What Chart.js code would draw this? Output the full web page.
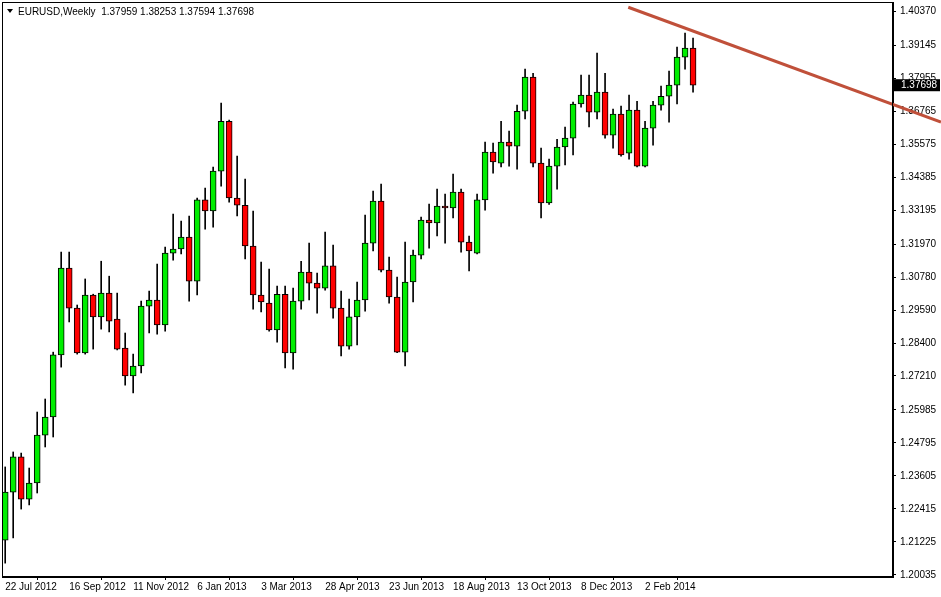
<!DOCTYPE html>
<html><head><meta charset="utf-8">
<script src="https://cdn.jsdelivr.net/npm/chart.js@4/dist/chart.umd.min.js"></script>
<style>html,body{margin:0;padding:0;background:#fff}#w{width:941px;height:597px;position:relative}</style>
</head><body><div id="w"><canvas id="c"></canvas></div>
<script>
const dateLabels=["22 Jul 2012","16 Sep 2012","11 Nov 2012","6 Jan 2013","3 Mar 2013","28 Apr 2013","23 Jun 2013","18 Aug 2013","13 Oct 2013","8 Dec 2013","2 Feb 2014"];
const priceTicks=[1.40370,1.39145,1.37955,1.36765,1.35575,1.34385,1.33195,1.31970,1.30780,1.29590,1.28400,1.27210,1.25985,1.24795,1.23605,1.22415,1.21225,1.20035];
const opens=[1.2129,1.2302,1.2429,1.2277,1.2335,1.2508,1.2573,1.2797,1.3110,1.2966,1.2804,1.3013,1.2934,1.3020,1.2926,1.2822,1.2721,1.2757,1.2973,1.2995,1.2905,1.3164,1.3179,1.3222,1.3063,1.3356,1.3316,1.3460,1.3640,1.3363,1.3337,1.3190,1.3013,1.2984,1.2887,1.3016,1.2804,1.2991,1.3096,1.3056,1.3038,1.3118,1.2966,1.2829,1.2934,1.2995,1.3200,1.3352,1.3103,1.3006,1.2807,1.3060,1.3157,1.3283,1.3273,1.3334,1.3327,1.3384,1.3204,1.3164,1.3356,1.3529,1.3489,1.3565,1.3550,1.3676,1.3799,1.3489,1.3345,1.3478,1.3547,1.3579,1.3702,1.3734,1.3673,1.3745,1.3590,1.3666,1.3525,1.3680,1.3478,1.3615,1.3698,1.3730,1.3770,1.3871,1.3904];
const closes=[1.2302,1.2429,1.2277,1.2335,1.2508,1.2573,1.2797,1.3110,1.2966,1.2804,1.3013,1.2934,1.3020,1.2919,1.2818,1.2721,1.2757,1.2973,1.2995,1.2905,1.3164,1.3179,1.3222,1.3063,1.3356,1.3316,1.3460,1.3640,1.3363,1.3337,1.3190,1.3013,1.2988,1.2887,1.3016,1.2804,1.2991,1.3096,1.3056,1.3038,1.3118,1.2966,1.2829,1.2934,1.2995,1.3200,1.3352,1.3103,1.3006,1.2807,1.3060,1.3157,1.3283,1.3273,1.3334,1.3327,1.3384,1.3204,1.3172,1.3356,1.3529,1.3493,1.3565,1.3550,1.3676,1.3799,1.3489,1.3345,1.3478,1.3547,1.3579,1.3702,1.3734,1.3673,1.3745,1.3590,1.3666,1.3518,1.3680,1.3478,1.3615,1.3698,1.3730,1.3770,1.3871,1.3904,1.37698];
const highs=[1.2393,1.2447,1.2443,1.2389,1.2591,1.2638,1.2807,1.3168,1.3168,1.2977,1.3071,1.3016,1.3135,1.3081,1.3020,1.2876,1.2800,1.2991,1.3027,1.3125,1.3186,1.3305,1.3280,1.3298,1.3363,1.3399,1.3475,1.3705,1.3644,1.3514,1.3431,1.3316,1.3132,1.3107,1.3045,1.3045,1.3038,1.3135,1.3200,1.3092,1.3240,1.3193,1.3027,1.2998,1.3060,1.3301,1.3388,1.3413,1.3150,1.3078,1.3204,1.3175,1.3294,1.3341,1.3395,1.3377,1.3449,1.3395,1.3226,1.3377,1.3565,1.3561,1.3640,1.3604,1.3698,1.3828,1.3813,1.3543,1.3503,1.3575,1.3619,1.3709,1.3806,1.3806,1.3886,1.3813,1.3684,1.3695,1.3734,1.3712,1.3640,1.3712,1.3767,1.3821,1.3907,1.3958,1.3940];
const lows=[1.2046,1.2137,1.2241,1.2256,1.2299,1.2465,1.2501,1.2753,1.2916,1.2800,1.2800,1.2818,1.2890,1.2880,1.2815,1.2688,1.2660,1.2732,1.2876,1.2872,1.2883,1.3139,1.3161,1.2991,1.3013,1.3251,1.3258,1.3406,1.3348,1.3298,1.3143,1.2962,1.2952,1.2883,1.2843,1.2750,1.2746,1.2962,1.2995,1.2948,1.3031,1.2930,1.2793,1.2818,1.2833,1.2955,1.3172,1.3096,1.2984,1.2805,1.2757,1.2988,1.3143,1.3182,1.3226,1.3200,1.3291,1.3168,1.3100,1.3161,1.3319,1.3453,1.3475,1.3478,1.3467,1.3648,1.3475,1.3291,1.3340,1.3395,1.3482,1.3518,1.3691,1.3619,1.3648,1.3579,1.3543,1.3514,1.3503,1.3475,1.3475,1.3554,1.3680,1.3637,1.3702,1.3828,1.3745];
const trendX=[77.9,117];
const trendY=[1.4051,1.3637];
const header="EURUSD,Weekly  1.37959 1.38253 1.37594 1.37698";
const FONT='"Liberation Sans"';

const bodies=opens.map((o,i)=>({x:i,y:[o,closes[i]]}));
const wicks=lows.map((l,i)=>({x:i,y:[l,highs[i]]}));
const bodyColors=opens.map((o,i)=>closes[i]>=o?'#00ee00':'#ff0000');

const lastPricePlugin={id:'lp',afterDraw(ch){
  const c=ch.ctx,y=ch.scales.y.getPixelForValue(closes[closes.length-1]);
  c.save();c.fillStyle='#000';c.fillRect(ch.chartArea.right+1,y-6,46,12);
  c.fillStyle='#fff';c.font='10px '+FONT;c.textBaseline='middle';c.fillText(closes[closes.length-1].toFixed(5),ch.chartArea.right+8,y);
  c.fillStyle='#000';
  c.beginPath();c.moveTo(7,9);c.lineTo(13,9);c.lineTo(10,13);c.fill();
  c.fillText(header,18,12);
  c.strokeStyle='#000';c.lineWidth=1;const a=ch.chartArea;c.strokeRect(a.left+0.5,a.top+0.5,a.right-a.left-1,a.bottom-a.top-1);
  c.restore();}};

new Chart(document.getElementById('c'),{
 data:{datasets:[
  {type:'bar',data:bodies,backgroundColor:bodyColors,borderColor:'#000',borderWidth:1,borderSkipped:false,barThickness:6,grouped:false,order:1},
  {type:'bar',data:wicks,backgroundColor:'#000',borderWidth:0,barThickness:1,grouped:false,order:2},
  {type:'line',data:trendX.map((x,i)=>({x,y:trendY[i]})),borderColor:'#c0503a',borderWidth:3,pointRadius:0,order:0,clip:false}
 ]},
 plugins:[lastPricePlugin],
 options:{responsive:true,maintainAspectRatio:false,animation:false,devicePixelRatio:1,
  layout:{padding:{left:2,top:2,right:0,bottom:0}},
  plugins:{legend:{display:false},tooltip:{enabled:false}},
  scales:{
   x:{type:'linear',min:-0.4,max:111,offset:false,
     afterBuildTicks(s){s.ticks=dateLabels.map((d,i)=>({value:i*8}));},
     afterFit(s){s.height=20;s.paddingLeft=0;s.paddingRight=0;},
     grid:{drawOnChartArea:false,drawTicks:true,tickLength:3,color:'#000'},border:{color:'#000'},
     ticks:{autoSkip:false,maxRotation:0,align:'start',padding:1,color:'#000',font:{family:'Liberation Sans',size:10},callback:(v)=>dateLabels[v/8]}},
   y:{position:'right',min:1.1996,max:1.4070,
     afterBuildTicks(s){s.ticks=priceTicks.map(v=>({value:v}));},
     afterFit(s){s.width=48;s.paddingTop=0;s.paddingBottom=0;},
     grid:{drawOnChartArea:false,drawTicks:true,tickLength:3,color:'#000'},border:{color:'#000'},
     ticks:{autoSkip:false,padding:4,color:'#000',font:{family:'Liberation Sans',size:10},callback:(v)=>v.toFixed(5)}}
  }}
});
</script></body></html>
